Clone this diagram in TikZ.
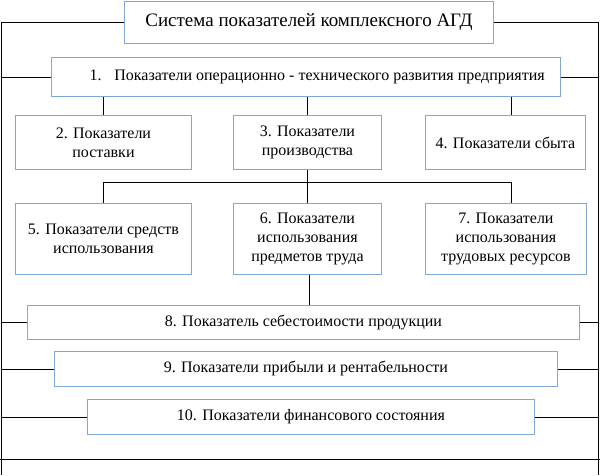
\documentclass[tikz,border=0pt]{standalone}
\usepackage{fontspec}
\setmainfont{Liberation Serif}
\definecolor{boxblue}{RGB}{125,168,216}
\begin{document}
\begin{tikzpicture}[x=1pt,y=-1pt,
  box/.style={draw=boxblue, line width=0.9pt, fill=white, align=center, inner sep=0pt, anchor=north west, font=\fontsize{16}{19}\selectfont},
  ln/.style={draw=black, line width=0.9pt}]
\useasboundingbox (0,0) rectangle (600,475);
\node[box, minimum width=369pt, minimum height=42pt, font=\fontsize{19}{22}\selectfont] (T) at (124,1) {Система показателей комплексного АГД};
\node[box, minimum width=509pt, minimum height=39pt] (B1) at (51,57) {\hspace{1.4em}1.\hspace{0.8em}Показатели операционно - технического развития предприятия};
\node[box, minimum width=176pt, minimum height=54pt] (B2) at (15,115) {2. Показатели\\поставки};
\node[box, minimum width=148pt, minimum height=54pt] (B3) at (233,115) {3. Показатели\\производства};
\node[box, minimum width=160pt, minimum height=54pt] (B4) at (425,115) {4. Показатели сбыта};
\node[box, minimum width=176pt, minimum height=71pt] (B5) at (15,203) {5. Показатели средств\\использования};
\node[box, minimum width=148pt, minimum height=71pt] (B6) at (233,203) {6. Показатели\\использования\\предметов труда};
\node[box, minimum width=161pt, minimum height=71pt] (B7) at (425,203) {7. Показатели\\использования\\трудовых ресурсов};
\node[box, minimum width=552pt, minimum height=34pt] (B8) at (27,305) {8. Показатель себестоимости продукции};
\node[box, minimum width=503pt, minimum height=35pt] (B9) at (54,351) {9. Показатели прибыли и рентабельности};
\node[box, minimum width=447pt, minimum height=35pt] (B10) at (87,399) {10. Показатели финансового состояния};
\coordinate (lb) at (1,475);
\coordinate (rb) at (598.5,475);
\coordinate (c4) at (511,0);
\coordinate (c6) at (309.5,0);
\coordinate (hj) at (0,182);
\coordinate (bl) at (0,459);
\coordinate (br) at (600,459);
\draw[ln] (T.west) -| (lb);
\draw[ln] (T.east) -| (rb);
\foreach \n in {B1,B8,B9,B10}{
  \draw[ln] (\n.west) -- (\n.west -| lb);
  \draw[ln] (\n.east) -- (\n.east -| rb);
}
\draw[ln] (B2.north) -- (B2.north |- B1.south);
\draw[ln] (B3.north) -- (B3.north |- B1.south);
\draw[ln] (c4 |- B1.south) -- (c4 |- B4.north);
\draw[ln] (B3.south) -- (B6.north);
\draw[ln] (B5.north) -- (B5.north |- hj) -- (c4 |- hj) -- (c4 |- B7.north);
\draw[ln] (c6 |- B6.south) -- (c6 |- B8.north);
\draw[ln] (bl) -- (br);
\end{tikzpicture}
\end{document}
